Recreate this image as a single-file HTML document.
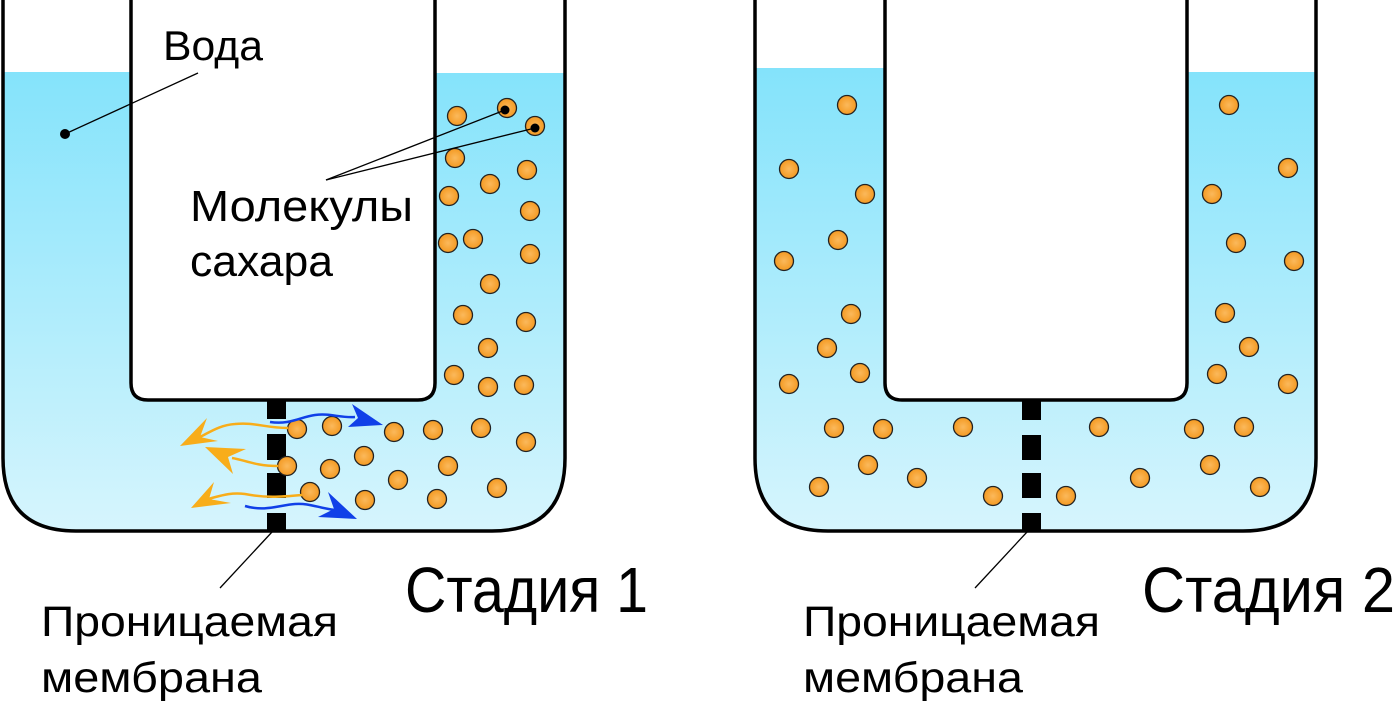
<!DOCTYPE html>
<html><head><meta charset="utf-8"><style>
html,body{margin:0;padding:0;background:#fff;}
svg{display:block;}
text{font-family:"Liberation Sans",sans-serif;fill:#000;}
</style></head><body>
<svg width="1397" height="708" viewBox="0 0 1397 708" xmlns="http://www.w3.org/2000/svg">
<defs>
<linearGradient id="w" gradientUnits="userSpaceOnUse" x1="0" y1="70" x2="0" y2="530">
<stop offset="0" stop-color="#84e3fb"/><stop offset="1" stop-color="#d6f5fd"/>
</linearGradient>
<radialGradient id="m" cx="0.5" cy="0.5" r="0.5">
<stop offset="0" stop-color="#fbb95c"/><stop offset="1" stop-color="#f49a22"/>
</radialGradient>
<g id="mol"><circle r="9.5" fill="url(#m)" stroke="#222" stroke-width="1.3"/></g>
</defs>

<!-- Stage 1 -->
<path d="M3,72 H131 V385 Q131,400 146,400 H420 Q435,400 435,385 V73 H565 V458 Q565,531 492,531 H76 Q3,531 3,458 Z" fill="url(#w)"/>
<path d="M3,0 V458 Q3,531 76,531 H492 Q565,531 565,458 V0" fill="none" stroke="#000" stroke-width="3.5"/>
<path d="M131,0 V383 Q131,400 148,400 H418 Q435,400 435,383 V0" fill="none" stroke="#000" stroke-width="3.5"/>
<g fill="#000">
<rect x="267" y="399" width="19" height="20"/><rect x="267" y="434" width="19" height="26"/>
<rect x="267" y="473" width="19" height="25"/><rect x="267" y="513" width="19" height="19"/>
</g>
<g>
<use href="#mol" x="457" y="116"/><use href="#mol" x="507" y="108"/><use href="#mol" x="535" y="126"/>
<use href="#mol" x="455" y="158"/><use href="#mol" x="490" y="184"/><use href="#mol" x="527" y="170"/>
<use href="#mol" x="449" y="196"/><use href="#mol" x="530" y="211"/><use href="#mol" x="448" y="243"/>
<use href="#mol" x="473" y="239"/><use href="#mol" x="530" y="254"/><use href="#mol" x="490" y="284"/>
<use href="#mol" x="463" y="315"/><use href="#mol" x="526" y="322"/><use href="#mol" x="488" y="348"/>
<use href="#mol" x="454" y="375"/><use href="#mol" x="488" y="387"/><use href="#mol" x="524" y="385"/>
<use href="#mol" x="297" y="429"/><use href="#mol" x="332" y="426"/><use href="#mol" x="394" y="432"/>
<use href="#mol" x="433" y="430"/><use href="#mol" x="481" y="428"/><use href="#mol" x="526" y="442"/>
<use href="#mol" x="287" y="466"/><use href="#mol" x="330" y="469"/><use href="#mol" x="364" y="456"/>
<use href="#mol" x="448" y="466"/><use href="#mol" x="398" y="480"/>
<use href="#mol" x="310" y="492"/><use href="#mol" x="365" y="500"/><use href="#mol" x="437" y="499"/>
<use href="#mol" x="497" y="488"/>
</g>
<circle cx="505" cy="110" r="4.5" fill="#000"/><circle cx="535" cy="128" r="4.5" fill="#000"/>
<g stroke="#000" stroke-width="1.3" fill="none">
<line x1="505" y1="110" x2="326" y2="180"/><line x1="535" y1="128" x2="326" y2="180"/>
<line x1="65" y1="134" x2="198" y2="73"/>
<line x1="272" y1="532" x2="220" y2="588"/>
</g>
<circle cx="65" cy="134" r="5" fill="#000"/>
<!-- arrows -->
<g fill="none" stroke-width="2.5">
<path d="M288,428 C265,428 255,422 235,424 C220,425 210,432 200,437" stroke="#f8ad1a"/>
<path d="M278,466 C255,466 245,460 232,458" stroke="#f8ad1a"/>
<path d="M302,495 C280,497 265,498 245,494 C230,492 220,496 208,499" stroke="#f8ad1a"/>
<path d="M270,422 C290,425 300,417 315,415 C330,413 340,418 355,417" stroke="#1040e8"/>
<path d="M245,506 C265,512 280,505 295,504 C310,503 318,508 335,510" stroke="#1040e8"/>
</g>
<polygon points="180,446 207,418 200,437 218,441" fill="#f8ad1a"/>
<polygon points="205,447 246,449 228,457 233,474" fill="#f8ad1a"/>
<polygon points="191,508 214,482 209,499 231,503" fill="#f8ad1a"/>
<polygon points="383,425 352,404 358,418 348,427" fill="#1040e8"/>
<polygon points="357,519 328,492 334,509 318,517" fill="#1040e8"/>

<text x="163" y="60" font-size="42" textLength="100" lengthAdjust="spacingAndGlyphs">Вода</text>
<text x="190" y="221" font-size="44" textLength="223" lengthAdjust="spacingAndGlyphs">Молекулы</text>
<text x="190" y="276" font-size="44" textLength="143" lengthAdjust="spacingAndGlyphs">сахара</text>
<text x="405" y="612" font-size="64" textLength="243" lengthAdjust="spacingAndGlyphs">Стадия 1</text>
<text x="41" y="636" font-size="43" textLength="297" lengthAdjust="spacingAndGlyphs">Проницаемая</text>
<text x="41" y="692" font-size="43" textLength="221" lengthAdjust="spacingAndGlyphs">мембрана</text>

<!-- Stage 2 -->
<path d="M755,68 H885 V385 Q885,400 900,400 H1172 Q1187,400 1187,385 V72 H1316 V458 Q1316,531 1243,531 H828 Q755,531 755,458 Z" fill="url(#w)"/>
<path d="M755,0 V458 Q755,531 828,531 H1243 Q1316,531 1316,458 V0" fill="none" stroke="#000" stroke-width="3.5"/>
<path d="M885,0 V383 Q885,400 902,400 H1170 Q1187,400 1187,383 V0" fill="none" stroke="#000" stroke-width="3.5"/>
<g fill="#000">
<rect x="1022" y="399" width="19" height="21"/><rect x="1022" y="435" width="19" height="25"/>
<rect x="1022" y="473" width="19" height="25"/><rect x="1022" y="513" width="19" height="18"/>
</g>
<g>
<use href="#mol" x="847" y="105"/><use href="#mol" x="789" y="169"/><use href="#mol" x="865" y="194"/>
<use href="#mol" x="838" y="240"/><use href="#mol" x="784" y="261"/><use href="#mol" x="851" y="314"/>
<use href="#mol" x="827" y="348"/><use href="#mol" x="860" y="373"/><use href="#mol" x="789" y="384"/>
<use href="#mol" x="834" y="428"/><use href="#mol" x="883" y="429"/><use href="#mol" x="963" y="427"/>
<use href="#mol" x="868" y="465"/><use href="#mol" x="917" y="478"/><use href="#mol" x="819" y="487"/>
<use href="#mol" x="993" y="496"/><use href="#mol" x="1066" y="496"/><use href="#mol" x="1099" y="427"/>
<use href="#mol" x="1140" y="478"/><use href="#mol" x="1194" y="429"/><use href="#mol" x="1244" y="427"/>
<use href="#mol" x="1210" y="465"/><use href="#mol" x="1260" y="487"/><use href="#mol" x="1229" y="105"/>
<use href="#mol" x="1288" y="168"/><use href="#mol" x="1212" y="194"/><use href="#mol" x="1236" y="243"/>
<use href="#mol" x="1294" y="261"/><use href="#mol" x="1225" y="313"/><use href="#mol" x="1249" y="347"/>
<use href="#mol" x="1217" y="374"/><use href="#mol" x="1288" y="384"/>
</g>
<line x1="1027" y1="532" x2="975" y2="588" stroke="#000" stroke-width="1.3"/>
<text x="1142" y="612" font-size="64" textLength="253" lengthAdjust="spacingAndGlyphs">Стадия 2</text>
<text x="803" y="636" font-size="43" textLength="297" lengthAdjust="spacingAndGlyphs">Проницаемая</text>
<text x="803" y="692" font-size="43" textLength="220" lengthAdjust="spacingAndGlyphs">мембрана</text>
</svg>
</body></html>
